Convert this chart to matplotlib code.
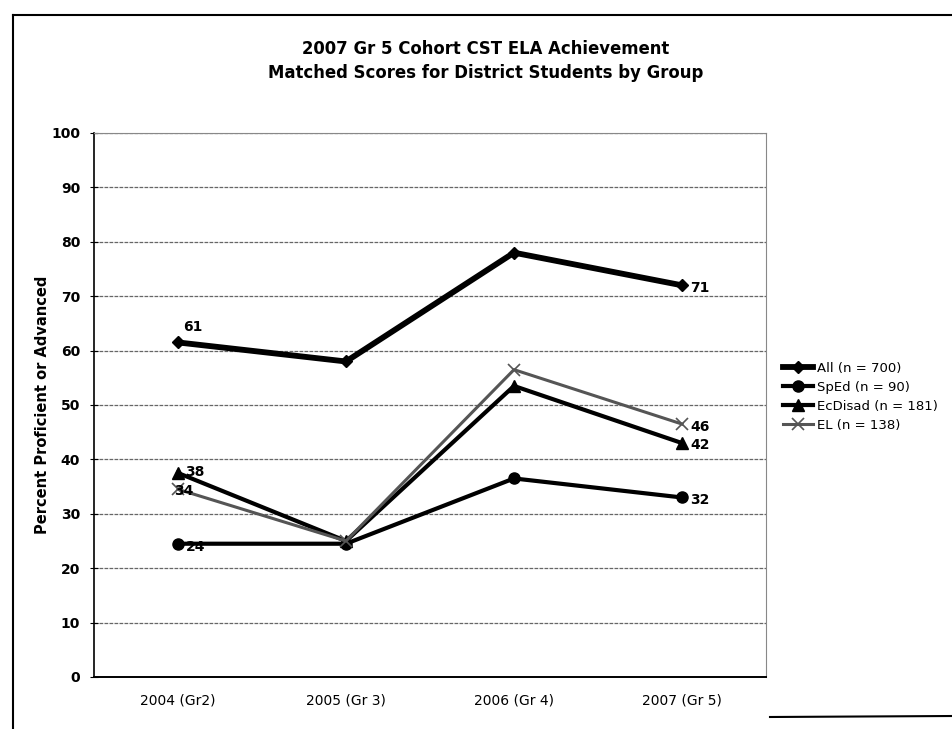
import matplotlib
matplotlib.use("Agg")
import matplotlib.pyplot as plt
from matplotlib.lines import Line2D

categories = ["2004 (Gr2)", "2005 (Gr 3)", "2006 (Gr 4)", "2007 (Gr 5)"]
series_names = ["All (n = 700)", "SpEd (n = 90)", "EcDisad (n = 181)", "EL (n = 138)"]
all_vals = [61.5, 58, 78, 72]
sped_vals = [24.5, 24.5, 36.5, 33]
ecdisad_vals = [37.5, 25, 53.5, 43]
el_vals = [34.5, 25, 56.5, 46.5]
all_labels = ["61", "", "", "71"]
sped_labels = ["24", "", "", "32"]
ecdisad_labels = ["38", "", "", "42"]
el_labels = ["34", "", "", "46"]
yticks = [0, 10, 20, 30, 40, 50, 60, 70, 80, 90, 100]

plt.rcParams['font.family'] = ['DejaVu Sans']

fig = plt.figure(figsize=(9.53, 7.29), dpi=100)
ax = fig.add_axes([94/953, 1-677/729, (766-94)/953, (677-133)/729])

x = list(range(len(categories)))
styles = [
    dict(color="black", lw=4.2, marker="D", ms=6),
    dict(color="black", lw=3.0, marker="o", ms=8),
    dict(color="black", lw=3.0, marker="^", ms=8),
    dict(color="#555555", lw=2.2, marker="x", ms=8, mew=1.2),
]
data = [all_vals, sped_vals, ecdisad_vals, el_vals]
handles = []
for name, vals, st in zip(series_names, data, styles):
    h, = ax.plot(x, vals, label=name, zorder=3, **st)
    handles.append(h)

fs = 10
ax.annotate(all_labels[0], (x[0], all_vals[0]), xytext=(4, 8), textcoords="offset points", fontsize=fs, fontweight="bold")
ax.annotate(all_labels[3], (x[3], all_vals[3]), xytext=(6, -5), textcoords="offset points", fontsize=fs, fontweight="bold")
ax.annotate(sped_labels[0], (x[0], sped_vals[0]), xytext=(6, -5), textcoords="offset points", fontsize=fs, fontweight="bold")
ax.annotate(sped_labels[3], (x[3], sped_vals[3]), xytext=(6, -5), textcoords="offset points", fontsize=fs, fontweight="bold")
ax.annotate(ecdisad_labels[0], (x[0], ecdisad_vals[0]), xytext=(5, -2), textcoords="offset points", fontsize=fs, fontweight="bold")
ax.annotate(ecdisad_labels[3], (x[3], ecdisad_vals[3]), xytext=(6, -4), textcoords="offset points", fontsize=fs, fontweight="bold")
ax.annotate(el_labels[0], (x[0], el_vals[0]), xytext=(-3, -4), textcoords="offset points", fontsize=fs, fontweight="bold")
ax.annotate(el_labels[3], (x[3], el_vals[3]), xytext=(6, -5), textcoords="offset points", fontsize=fs, fontweight="bold")

ax.set_xlim(-0.5, 3.5)
ax.set_ylim(0, 100)
ax.set_yticks(yticks)
ax.set_yticklabels([str(t) for t in yticks], fontsize=10, fontweight="bold")
ax.set_xticks(x)
ax.set_xticklabels(categories, fontsize=10)
ax.tick_params(axis="x", length=0, pad=12)
ax.tick_params(axis="y", length=6, direction="inout", pad=7)
ax.yaxis.grid(True, color="#666666", lw=0.9, ls=(0, (3, 1)))
ax.set_axisbelow(True)
for side in ["top", "right"]:
    ax.spines[side].set_color("#888888")
    ax.spines[side].set_linestyle((0, (2, 1)))
    ax.spines[side].set_linewidth(0.8)
ax.spines["left"].set_linewidth(1.2)
ax.spines["bottom"].set_linewidth(1.4)
ax.set_ylabel("Percent Proficient or Advanced", fontsize=10.5, fontweight="bold")
ax.yaxis.set_label_coords((50 - 94) / (766 - 94), 0.5)

fig.text(486/953, 1 - 61/729, "2007 Gr 5 Cohort CST ELA Achievement\nMatched Scores for District Students by Group",
         ha="center", va="center", fontsize=11.9, fontweight="bold", linespacing=1.45)

leg = fig.legend(handles=handles, labels=series_names, loc="center left",
                 bbox_to_anchor=(783/953, 1 - 397/729), frameon=False, fontsize=9.5,
                 handlelength=2.3, handletextpad=0.25, labelspacing=0.45, borderpad=0,
                 borderaxespad=0)

fig.add_artist(Line2D([13/953, 13/953], [0, 1 - 15/729], color="black", lw=1.5, transform=fig.transFigure))
fig.add_artist(Line2D([13/953, 1], [1 - 15/729, 1 - 15/729], color="black", lw=1.5, transform=fig.transFigure))
fig.add_artist(Line2D([770/953, 1], [1 - 717/729, 1 - 716/729], color="black", lw=1.5, transform=fig.transFigure))

fig.savefig("out.png", dpi=100)
